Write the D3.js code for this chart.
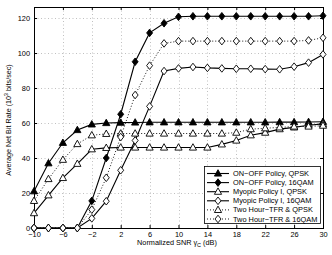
<!DOCTYPE html>
<html>
<head>
<meta charset="utf-8">
<script src="https://cdn.jsdelivr.net/npm/d3@7"></script>
<style>
	body { margin: 0; background: #fff; }
	svg { display: block; font-family: "Liberation Sans", Arial, sans-serif; }
</style>
</head>
<body>
<div class="container"></div>
<script>
// data
var snr = [-10, -8, -6, -4, -2, 0, 2, 4, 6, 8, 10, 12, 14, 16, 18, 20, 22, 24, 26, 28, 30];
var onOffQpsk = [21, 37, 48.7, 56, 59.2, 60, 60.2, 60.3, 60.4, 60.4, 60.4, 60.4, 60.4, 60.4, 60.4, 60.4, 60.4, 60.5, 60.5, 60.6, 60.7];
var onOff16qam = [0, 0, 0, 0, 15.5, 40, 65, 95, 111.5, 117, 120.7, 121, 121, 121, 121, 121, 121, 121, 121, 121, 121.3];
var myopicQpsk = [8.5, 18.7, 28.6, 36.7, 45, 45.8, 46, 46, 46, 46, 46, 46, 46, 47.8, 50, 53, 54.5, 56.5, 57.5, 58.7, 59.5];
var myopic16qam = [0, 0, 0, 0, 5.5, 15.3, 33, 50, 69.5, 89.7, 91.2, 92, 91.5, 91.2, 91, 91, 90.8, 90.7, 92.2, 94.5, 99.2];
var twoHourQpsk = [15.5, 28, 39, 48, 53, 53.8, 54, 54, 54, 54, 54, 54, 54, 54, 54.5, 56.5, 57, 57.5, 58, 58, 58.5];
var twoHour16qam = [0, 0, 0, 0, 10.5, 28.7, 52, 76, 92.8, 105.5, 106.8, 106.8, 106.8, 106.8, 106.8, 106.8, 106.8, 106.8, 106.8, 107.2, 108.7];

var xTicks = [-10, -6, -2, 2, 6, 10, 14, 18, 22, 26, 30];
var yTicks = [0, 20, 40, 60, 80, 100, 120];

var seriesNames = ["ON\u2212OFF Policy, QPSK", "ON\u2212OFF Policy, 16QAM", "Myopic Policy I, QPSK",
	"Myopic Policy I, 16QAM", "Two Hour\u2212TFR & QPSK", "Two Hour\u2212TFR & 16QAM"];
var seriesValues = [onOffQpsk, onOff16qam, myopicQpsk, myopic16qam, twoHourQpsk, twoHour16qam];
var seriesMarker = ["tri", "dia", "tri", "dia", "tri", "dia"];
var seriesFilled = [true, true, false, false, false, false];
var seriesDotted = [false, false, false, false, true, true];

var W = 332, H = 255;
var pLeft = 34, pRight = 323, pTop = 7, pBottom = 228;
var fontStack = "Liberation Sans, Arial, sans-serif";

var svg = d3.select(".container").append("svg")
	.attr("width", W)
	.attr("height", H);

var x = d3.scaleLinear().domain([-10, 30]).range([pLeft, pRight]);
var y = d3.scaleLinear().domain([0, 126.3]).range([pBottom, pTop]);

// dotted grid
var grid = svg.append("g").attr("stroke", "#b0b0b0").attr("stroke-width", 0.8)
	.attr("stroke-dasharray", "1,2.5");
grid.selectAll(".gx").data(xTicks.slice(1, -1)).enter().append("line")
	.attr("x1", function (d) { return Math.round(x(d)) + 0.5; })
	.attr("x2", function (d) { return Math.round(x(d)) + 0.5; })
	.attr("y1", pTop).attr("y2", pBottom);
grid.selectAll(".gy").data(yTicks.slice(1, -1).concat([120])).enter().append("line")
	.attr("y1", function (d) { return Math.round(y(d)) + 0.5; })
	.attr("y2", function (d) { return Math.round(y(d)) + 0.5; })
	.attr("x1", pLeft).attr("x2", pRight);

// axes, ticks inside on all four sides
function styleAxis(g) {
	g.attr("font-size", "7.4px").attr("font-family", fontStack);
	g.select(".domain").remove();
	g.selectAll("line").attr("stroke", "#000");
	g.selectAll("text").attr("fill", "#000");
}
svg.append("g").attr("transform", "translate(0," + pBottom + ")")
	.call(d3.axisBottom(x).tickValues(xTicks).tickSizeInner(-3).tickSizeOuter(0)
		.tickFormat(function (d) { return d < 0 ? "\u2212" + (-d) : d; }))
	.call(styleAxis)
	.call(function (g) { g.selectAll("text").attr("y", 4); });
svg.append("g").attr("transform", "translate(0," + pTop + ")")
	.call(d3.axisTop(x).tickValues(xTicks).tickSizeInner(-3).tickSizeOuter(0).tickFormat(""))
	.call(styleAxis);
svg.append("g").attr("transform", "translate(" + pLeft + ",0)")
	.call(d3.axisLeft(y).tickValues(yTicks).tickSizeInner(-3).tickSizeOuter(0))
	.call(styleAxis)
	.call(function (g) { g.selectAll("text").attr("x", -4); });
svg.append("g").attr("transform", "translate(" + pRight + ",0)")
	.call(d3.axisRight(y).tickValues(yTicks).tickSizeInner(-3).tickSizeOuter(0).tickFormat(""))
	.call(styleAxis);

svg.append("rect")
	.attr("x", pLeft + 0.5).attr("y", pTop + 0.5)
	.attr("width", pRight - pLeft).attr("height", pBottom - pTop)
	.attr("fill", "none").attr("stroke", "#000").attr("stroke-width", 1);

// marker shapes
function markerPath(kind) {
	if (kind === "tri") return "M0,-3.8L3.6,2.6L-3.6,2.6Z";
	return "M0,-3.8L3,0L0,3.8L-3,0Z";
}

var line = d3.line()
	.x(function (d) { return x(d.x); })
	.y(function (d) { return y(d.y); });

seriesValues.forEach(function (vals, i) {
	var pts = snr.map(function (s, j) { return { x: s, y: vals[j] }; });
	var g = svg.append("g");
	g.append("path")
		.attr("d", line(pts))
		.attr("fill", "none")
		.attr("stroke", "#000")
		.attr("stroke-width", seriesDotted[i] ? 0.9 : 1.1)
		.attr("stroke-dasharray", seriesDotted[i] ? "1,2" : null);
	g.selectAll("path.m").data(pts).enter().append("path")
		.attr("class", "m")
		.attr("d", markerPath(seriesMarker[i]))
		.attr("transform", function (d) { return "translate(" + x(d.x) + "," + y(d.y) + ")"; })
		.attr("fill", seriesFilled[i] ? "#000" : "#fff")
		.attr("stroke", "#000")
		.attr("stroke-width", 0.9);
});

// legend
var lg = svg.append("g");
lg.append("rect")
	.attr("x", 204.5).attr("y", 166.5).attr("width", 116).attr("height", 57)
	.attr("fill", "#fff").attr("stroke", "#000").attr("stroke-width", 0.8);
seriesNames.forEach(function (name, i) {
	var ly = 173.5 + i * 9.1;
	lg.append("line")
		.attr("x1", 207).attr("x2", 229).attr("y1", ly).attr("y2", ly)
		.attr("stroke", "#000").attr("stroke-width", seriesDotted[i] ? 0.9 : 1.1)
		.attr("stroke-dasharray", seriesDotted[i] ? "1,2" : null);
	lg.append("path")
		.attr("d", markerPath(seriesMarker[i]))
		.attr("transform", "translate(218," + ly + ")")
		.attr("fill", seriesFilled[i] ? "#000" : "#fff")
		.attr("stroke", "#000").attr("stroke-width", 0.9);
	lg.append("text")
		.attr("x", 233).attr("y", ly).attr("dy", "0.35em")
		.attr("font-size", "7.4px")
		.text(name);
});

// axis titles
var xl = svg.append("text")
	.attr("x", 177).attr("y", 245)
	.attr("text-anchor", "middle")
	.attr("font-size", "7.3px");
xl.append("tspan").text("Normalized SNR \u03b3");
xl.append("tspan").attr("font-size", "5.5px").attr("dy", 2).text("C");
xl.append("tspan").attr("dy", -2).text(" (dB)");

var yl = svg.append("text")
	.attr("transform", "translate(11,120) rotate(-90)")
	.attr("text-anchor", "middle")
	.attr("font-size", "7.2px");
yl.append("tspan").text("Average Net Bit Rate (10");
yl.append("tspan").attr("font-size", "5.2px").attr("dy", -3).text("3");
yl.append("tspan").attr("dy", 3).text(" bits/sec)");
</script>
</body>
</html>
